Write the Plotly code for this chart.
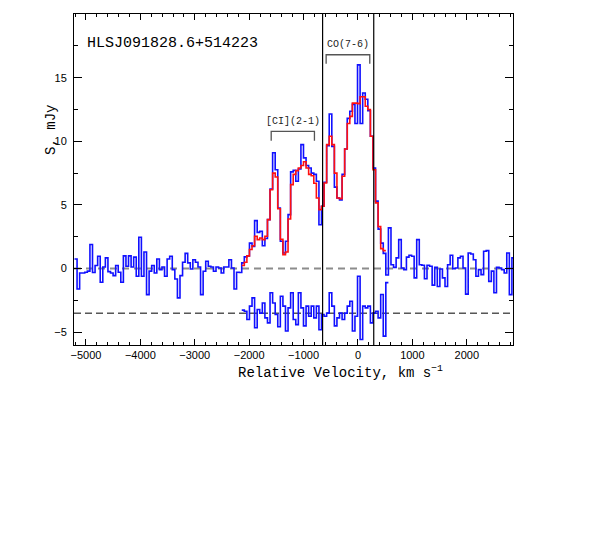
import numpy as np
import plotly.graph_objects as go

# channel grid (km/s)
v_start = -5211.0
dv = 47.3

# observed spectrum, mJy (blue)
flux = [0.76, -1.6, -0.34, -0.34, -0.29, -0.2, 1.9, -0.3, 0.24, 0.97,
        -1.07, 0.13, 0.84, -0.24, -0.34, -0.55, 0.24, -0.29, -1.07, 1.0,
        0.18, 1.0, 0.13, 0.9, -0.6, 2.46, -0.6, 1.3, -2.04, -0.2,
        0.24, -0.34, 0.76, -0.08, 0.13, -0.6, 0.76, 0.97, -0.08, -0.81,
        -2.3, -0.55, 0.5, 1.2, 0.45, -0.03, 0.7, 0.5, 0.13, -2.04,
        -0.21, 0.58, 0.18, 0.13, -0.21, 0.13, 0.05, -0.34, 0.13, 0.13,
        0.7, 0.05, -1.6, -0.29, -0.3, 0.45, 0.92, 1.0, 2.0, 1.75,
        3.77, 2.85, 2.93, 1.8, 2.36, 3.85, 6.25, 9.1, 7.77, 4.76,
        2.15, 1.23, 2.15, 4.24, 7.6, 7.72, 6.86, 7.83, 9.74, 8.7,
        8.1, 7.9, 7.5, 7.4, 6.86, 3.45, 4.9, 6.78, 9.66, 12.15,
        9.6, 6.4, 5.55, 5.4, 7.4, 9.4, 11.8, 12.36, 12.9, 11.4,
        16.0, 11.4, 13.8, 13.3, 12.4, 10.4, 7.9, 5.3, 3.1, 2.0,
        1.2, -0.5, 3.2, 0.3, 0.1, 0.84, 2.28, 0.05, -0.08, 0.9,
        1.05, 0.97, -0.73, 2.28, 0.3, 0.26, -0.8, 0.26, 0.18, -1.3,
        0.1, -1.4, -0.03, -0.73, -1.4, 0.3, 1.05, 0.0, 0.05, 0.84,
        0.97, 0.05, -2.0, 1.23, 1.15, 0.7, -0.6, -0.08, -0.47, 1.36,
        1.41, -1.0, -0.2, -1.9, 0.1, 0.05, -0.08, -0.34, 1.23, -2.04,
        0.84]

# model fit (red), starts at channel index fit_start
fit_start = 65
model = [0.24, 0.5, 1.0, 1.5, 1.8, 2.54, 2.28, 2.4, 2.28, 2.54,
         3.85, 6.2, 7.5, 7.2, 4.7, 2.3, 1.1, 1.3, 3.9, 6.6,
         7.4, 7.7, 7.9, 8.1, 8.4, 7.9, 7.4, 7.3, 6.7, 5.55,
         4.63, 4.9, 6.73, 9.74, 10.4, 9.74, 7.5, 5.55, 5.5, 7.25,
         9.4, 11.4, 11.96, 13.0, 13.0, 12.96, 13.5, 13.5, 12.75, 12.5,
         10.4, 7.77, 5.16, 3.3, 1.57, 1.41]

# residuals, drawn shifted down by resid_offset
resid_offset = -3.5
resid = [0.24, 0.15, -0.5, 0.55, 1.2, -1.15, 0.29, 0.0, 0.8, -0.37,
         -0.76, 1.6, 0.8, -0.1, -1.07, 1.33, 0.55, -1.4, 0.42, 1.6,
         -0.5, -0.9, 1.6, 0.42, -1.0, 0.55, -0.24, 0.55, -0.37, 0.55,
         -1.3, -0.1, -0.24, 0.0, 1.6, 0.55, -1.0, -0.37, 0.0, -0.5,
         0.0, 0.55, 0.94, -1.4, -0.24, 2.9, -2.07, 0.55, 0.42, 0.55,
         -0.76, 0.0, 0.15, -0.37, 1.47, -1.8, 2.4]

# fitted line windows and marker lines
co_window = [-585, 217]
ci_window = [-1595, -800]
vlines = [-650, 290]
y_ticks = [-5, 0, 5, 10, 15]

edges = v_start + dv * np.arange(len(flux) + 1)


def steps(vals, i0):
    x = edges[i0:i0 + len(vals) + 1]
    y = list(vals) + [vals[-1]]
    return x, y


fig = go.Figure()
x, y = steps(flux, 0)
fig.add_trace(go.Scatter(x=x, y=y, mode='lines', line=dict(color='#1010ff', width=1.6, shape='hv')))
x, y = steps([resid_offset + r for r in resid], fit_start)
fig.add_trace(go.Scatter(x=x, y=y, mode='lines', line=dict(color='#1010ff', width=1.6, shape='hv')))
x, y = steps(model, fit_start)
fig.add_trace(go.Scatter(x=x, y=y, mode='lines', line=dict(color='#ff1010', width=1.6, shape='hv')))

# dashed reference lines
fig.add_shape(type='line', xref='paper', x0=0, x1=1, yref='y', y0=0, y1=0,
              line=dict(color='#8c8c8c', width=2, dash='7px,5px'), layer='below')
fig.add_shape(type='line', xref='paper', x0=0, x1=1, yref='y', y0=resid_offset, y1=resid_offset,
              line=dict(color='black', width=1, dash='7px,4px'), layer='below')
for v in vlines:
    fig.add_shape(type='line', xref='x', x0=v, x1=v, yref='paper', y0=0, y1=1,
                  line=dict(color='black', width=1.2))

# brackets over the two lines
for win, top, bot in [(co_window, 16.8, 16.1), (ci_window, 10.78, 10.05)]:
    fig.add_shape(type='path', xref='x', yref='y',
                  path=f'M {win[0]},{bot} L {win[0]},{top} L {win[1]},{top} L {win[1]},{bot}',
                  line=dict(color='#555555', width=1.3))

fig.add_annotation(x=sum(co_window) / 2, y=17.6, text='CO(7-6)', showarrow=False,
                   font=dict(family='Liberation Mono', size=10, color='#222222'))
fig.add_annotation(x=sum(ci_window) / 2, y=11.55, text='[CI](2-1)', showarrow=False,
                   font=dict(family='Liberation Mono', size=10, color='#222222'))
fig.add_annotation(xref='paper', yref='paper', x=0.025, y=0.943, xanchor='left',
                   text='HLSJ091828.6+514223', showarrow=False,
                   font=dict(family='Liberation Mono', size=15, color='black'))
fig.add_annotation(xref='paper', yref='paper', x=0.606, y=-0.048, yanchor='top',
                   text='Relative Velocity, km s<sup>−1</sup>', showarrow=False,
                   font=dict(family='Liberation Mono', size=14, color='black'))
fig.add_annotation(xref='paper', yref='paper', x=-0.075, y=0.65, textangle=-90,
                   text='S, mJy', showarrow=False,
                   font=dict(family='Liberation Mono', size=14, color='black'))

fig.update_layout(
    width=599, height=545,
    plot_bgcolor='white', paper_bgcolor='white',
    showlegend=False,
    font=dict(family='Liberation Sans', size=11, color='black'),
    margin=dict(l=66, r=94, t=6, b=208, autoexpand=False),
    xaxis=dict(range=[-5220, 2850], tick0=0, dtick=1000, ticks='inside', ticklen=6,
               tickcolor='black', showline=True, linecolor='black', linewidth=1,
               mirror='ticks', showgrid=False, zeroline=False, automargin=False,
               minor=dict(dtick=200, ticklen=3, ticks='inside', tickcolor='black')),
    yaxis=dict(range=[-6, 20], tickmode='array', tickvals=y_ticks, ticks='inside', ticklen=8,
               tickcolor='black', showline=True, linecolor='black', linewidth=1,
               mirror='ticks', showgrid=False, zeroline=False, ticklabelstandoff=4,
               automargin=False,
               minor=dict(tick0=0, dtick=2.5, ticklen=4, ticks='inside', tickcolor='black')),
)

fig.write_html("out.html")
